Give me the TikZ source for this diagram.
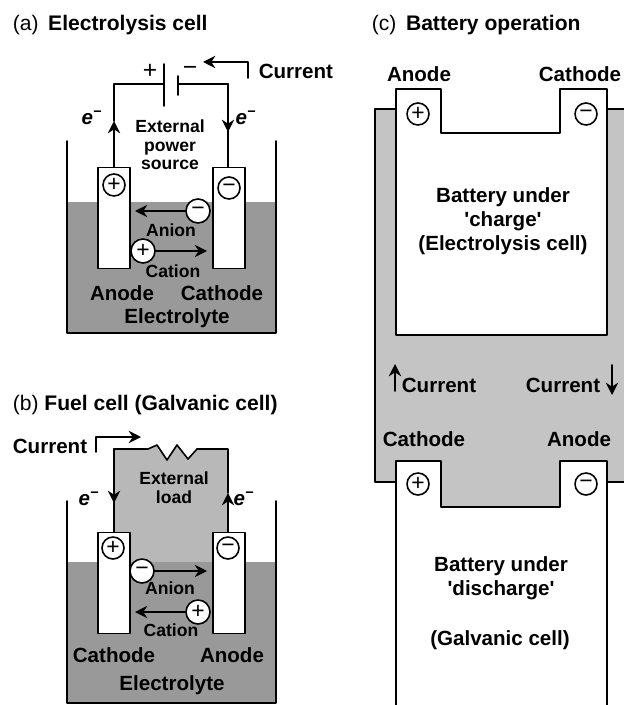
\documentclass[tikz,border=0pt]{standalone}
\usepackage{fontspec}
\setmainfont{Liberation Sans}
\usetikzlibrary{arrows.meta}
\definecolor{bathgray}{gray}{.6}
\definecolor{loadgray}{gray}{.72}
\definecolor{packgray}{gray}{.77}
\tikzset{
  lbl/.style={font=\fontsize{11.7}{13.5}\selectfont\bfseries,align=center,inner sep=0pt},
  lblsmall/.style={font=\fontsize{10}{10.6}\selectfont\bfseries,align=center,inner sep=0pt},
  title/.style={font=\fontsize{12}{14}\selectfont,anchor=west,inner sep=0pt},
  electrode/.style={draw,fill=white,minimum width=.64cm,minimum height=2.02cm,inner sep=0pt},
  ion/.style={draw,circle,fill=white,minimum size=.48cm,inner sep=0pt,font=\fontsize{13}{13}\selectfont},
  pole/.style={draw,circle,minimum size=.44cm,inner sep=0pt,font=\fontsize{13}{13}\selectfont},
  sign/.style={inner sep=0pt,font=\fontsize{14}{14}\selectfont}
}
\begin{document}
\begin{tikzpicture}[line join=round,line cap=round,x=.02cm,y=-.02cm,line width=.9pt,>={Stealth[length=7pt,width=7pt]}]
\useasboundingbox (0,0) rectangle (624,705);
% (a)
\node[title] (titleA) at (12,25) {(a)\hspace{5.5pt}\textbf{Electrolysis cell}};
\fill[bathgray] (67,202) rectangle (276,333);
\draw (67,141)--(67,333)--(276,333)--(276,141);
\node[electrode] (elecAl) at (114,218) {};
\node[electrode] (elecAr) at (229,218) {};
\coordinate (tipAl) at (114,121);
\coordinate (tipAr) at (228,132);
\coordinate (plateAl) at (164,84);
\coordinate (plateAr) at (178,84);
\coordinate (curAs) at (248,78);
\coordinate (curAe) at (203,62);
\draw[->] (elecAl.north-|tipAl) -- (tipAl);
\draw (tipAl) |- (plateAl);
\draw (plateAr) -| (tipAr);
\draw[->] (plateAr-|tipAr) -- (tipAr);
\draw (tipAr) -- (elecAr.north-|tipAr);
\draw (164,64)--(164,106);
\draw (178,76)--(178,95);
\draw[->] (curAs) |- (curAe);
\node[sign] (plusA) at (150,71) {+};
\node[sign] (minusA) at (190,71) {−};
\node[lbl,anchor=west] (currentA) at (258,71) {Current};
\node[lbl] (eAl) at (92,118) {\itshape e\textsuperscript{−}};
\node[lbl] (eAr) at (246,118) {\itshape e\textsuperscript{−}};
\node[lblsmall] (sourceA) at (170,145) {External\\power\\source};
\node[pole] (poleAl) at (114,185) {+};
\node[pole] (poleAr) at (229,188) {−};
\node[ion] (anionA) at (198,211) {−};
\node[ion] (cationA) at (143,251) {+};
\coordinate (anionAe) at (135,211);
\coordinate (cationAe) at (207,251);
\draw[->] (anionA) -- (anionAe);
\draw[->] (cationA) -- (cationAe);
\node[lblsmall] (anionAt) at (171,230) {Anion};
\node[lblsmall] (cationAt) at (173,271) {Cation};
\node[lbl] (anodeA) at (122,293) {Anode};
\node[lbl] (cathodeA) at (222,293) {Cathode};
\node[lbl] (bathA) at (177,318) {Electrolyte};
% (b)
\node[title] (titleB) at (12,405) {(b) \textbf{Fuel cell (Galvanic cell)}};
\fill[loadgray] (114,449)--(148,449)--(157,445)--(167,460)--(177,445)--(188,459)--(197,449)--(228,449)--(228,562)--(114,562)--cycle;
\fill[bathgray] (67,562) rectangle (276,703);
\draw (67,501)--(67,703)--(276,703)--(276,501);
\node[electrode] (elecBl) at (114,583) {};
\node[electrode] (elecBr) at (229,583) {};
\coordinate (tipBl) at (114,503);
\coordinate (tipBr) at (228,493);
\coordinate (loadBl) at (148,449);
\coordinate (loadBr) at (197,449);
\coordinate (curBs) at (96,452);
\coordinate (curBe) at (141,437);
\draw (loadBl) -| (tipBl);
\draw[->] (loadBl-|tipBl) -- (tipBl);
\draw (tipBl) -- (elecBl.north-|tipBl);
\draw[->] (elecBr.north-|tipBr) -- (tipBr);
\draw (tipBr) |- (loadBr);
\draw (loadBl)--(157,445)--(167,460)--(177,445)--(188,459)--(loadBr);
\draw[->] (curBs) |- (curBe);
\node[lbl] (currentB) at (50,446) {Current};
\node[lbl] (eBl) at (89,499) {\itshape e\textsuperscript{−}};
\node[lbl] (eBr) at (244,499) {\itshape e\textsuperscript{−}};
\node[lblsmall] (loadB) at (174,488) {External\\load};
\node[pole] (poleBl) at (113,548) {+};
\node[pole] (poleBr) at (228,548) {−};
\node[ion] (anionB) at (142,571) {−};
\node[ion] (cationB) at (198,612) {+};
\coordinate (anionBe) at (207,571);
\coordinate (cationBe) at (135,612);
\draw[->] (anionB) -- (anionBe);
\draw[->] (cationB) -- (cationBe);
\node[lblsmall] (anionBt) at (170,588) {Anion};
\node[lblsmall] (cationBt) at (171,630) {Cation};
\node[lbl] (cathodeB) at (114,655) {Cathode};
\node[lbl] (anodeB) at (232,655) {Anode};
\node[lbl] (bathB) at (172,685) {Electrolyte};
% (c)
\node[title] (titleC) at (371,25) {(c)\hspace{5.5pt}\textbf{Battery operation}};
\fill[packgray] (375,109) rectangle (624,482);
\fill[packgray] (441,461) rectangle (560,507);
\draw (396,109)--(375,109)--(375,482)--(396,482);
\draw (607,109)--(624,109);
\draw (607,482)--(624,482);
\fill[white] (441,100) rectangle (560,133);
\filldraw[fill=white] (396,89)--(441,89)--(441,133)--(560,133)--(560,89)--(607,89)--(607,335)--(396,335)--cycle;
\filldraw[fill=white] (396,705)--(396,461)--(441,461)--(441,507)--(560,507)--(560,461)--(607,461)--(607,705);
\node[lbl] (anodeCt) at (419,74) {Anode};
\node[lbl] (cathodeCt) at (580,74) {Cathode};
\node[pole] (poleCa) at (418,114) {+};
\node[pole] (poleCb) at (586,114) {−};
\node[lbl] (chargeC) at (503,221) {Battery under\\\textquotesingle charge\textquotesingle\\(Electrolysis cell)};
\coordinate (curCas) at (395,391);
\coordinate (curCae) at (395,364);
\coordinate (curCbs) at (612,365);
\coordinate (curCbe) at (612,395);
\draw[->] (curCas) -- (curCae);
\draw[->] (curCbs) -- (curCbe);
\node[lbl] (currentCl) at (439,385) {Current};
\node[lbl] (currentCr) at (563,385) {Current};
\node[lbl] (cathodeCb) at (424,439) {Cathode};
\node[lbl] (anodeCb) at (579,439) {Anode};
\node[pole] (poleCc) at (418,484) {+};
\node[pole] (poleCd) at (586,484) {−};
\node[lbl] (dischargeC) at (501,578) {Battery under\\\textquotesingle discharge\textquotesingle};
\node[lbl] (galvanicC) at (500,640) {(Galvanic cell)};
\end{tikzpicture}
\end{document}
